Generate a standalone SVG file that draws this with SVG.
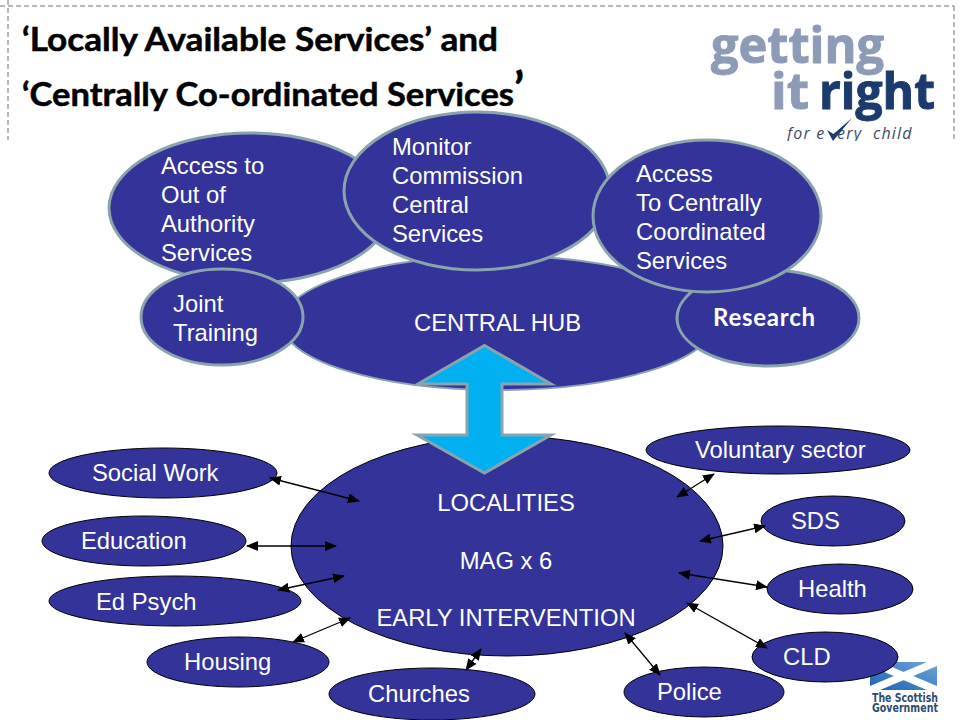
<svg xmlns="http://www.w3.org/2000/svg" width="960" height="720" viewBox="0 0 960 720">
<style>
.t{font-family:"Liberation Sans",Arial,sans-serif;font-size:23.8px;fill:#fff}
.n{fill:#333399;stroke:#000;stroke-width:1}
.u{fill:#333399;stroke:#8aa3ad;stroke-width:3}
.c{fill:none;stroke:#000;stroke-width:1.3;marker-start:url(#a);marker-end:url(#a)}
.h{font-family:Lato,"Open Sans",sans-serif;font-weight:700;font-size:32px;fill:#000;stroke:#000;stroke-width:.5}
.g{font-family:"Open Sans","Noto Sans",sans-serif;font-weight:700;font-size:50px;stroke-width:1}
.f{font-family:"Open Sans","Noto Sans",sans-serif;font-style:italic;font-size:16px;letter-spacing:1.2px;fill:#3d4a66}
.s{font-family:"DejaVu Sans",sans-serif;font-weight:700;font-size:11.5px;fill:#2f4b6e}
.d{fill:none;stroke:#6b7280;stroke-width:1;stroke-dasharray:5 3}
</style>
<defs>
<marker id="a" viewBox="0 0 12 10" refX="11" refY="5" markerWidth="12" markerHeight="10" markerUnits="userSpaceOnUse" orient="auto-start-reverse"><path d="M0 0L12 5L0 10Z" fill="#000"/></marker>
<linearGradient id="sg" x1="0" y1="1" x2="1" y2="0"><stop offset="0" stop-color="#1a62b5"/><stop offset="1" stop-color="#6fa6da"/></linearGradient>
<clipPath id="fc"><rect x="780" y="115" width="140" height="26"/></clipPath>
</defs>
<rect width="960" height="720" fill="#fff"/>
<path class="d" d="M0 6H954M8 0V140M954 6V140"/>
<text class="h" x="22" y="51" textLength="476" lengthAdjust="spacingAndGlyphs">‘Locally Available Services’ and</text>
<text class="h" x="22" y="106" textLength="492" lengthAdjust="spacingAndGlyphs">‘Centrally Co-ordinated Services</text>
<text class="h" x="514" y="105" style="font-size:46px">’</text>
<g id="logo">
<text class="g" x="711" y="63" fill="#8e9bb6" stroke="#8e9bb6" textLength="173" lengthAdjust="spacingAndGlyphs">getting</text>
<text class="g" x="771" y="109" fill="#8e9bb6" stroke="#8e9bb6" textLength="38" lengthAdjust="spacingAndGlyphs">it</text>
<text class="g" x="819" y="109" fill="#1c3a6e" stroke="#1c3a6e" textLength="116" lengthAdjust="spacingAndGlyphs">right</text>
<g clip-path="url(#fc)">
<text class="f" x="787" y="139">for e</text>
<text class="f" x="837" y="139">ery</text>
<text class="f" x="873" y="139">child</text>
</g>
<path d="M827 130L833 141L852 118L833.500 134Z" fill="#1c3a6e"/>
</g>
<g id="hub"><ellipse class="n" cx="498" cy="323" rx="216" ry="67" style="stroke:#8aa3ad;stroke-width:2"/><text class="t" x="414" y="331">CENTRAL HUB</text></g>
<g id="research"><ellipse class="u" cx="768" cy="318" rx="91" ry="48"/><text x="713" y="326" textLength="102" style="font-family:Lato,sans-serif;font-weight:700;font-size:24px;fill:#fff">Research</text></g>
<g id="out-of-authority"><ellipse class="u" cx="250" cy="208" rx="141" ry="75"/><text class="t"><tspan x="161" y="174">Access to</tspan><tspan x="161" y="203">Out of</tspan><tspan x="161" y="232">Authority</tspan><tspan x="161" y="261">Services</tspan></text></g>
<g id="monitor"><ellipse class="u" cx="477" cy="191" rx="133" ry="79"/><text class="t"><tspan x="392" y="155">Monitor</tspan><tspan x="392" y="184">Commission</tspan><tspan x="392" y="213">Central</tspan><tspan x="392" y="242">Services</tspan></text></g>
<g id="central-access"><ellipse class="u" cx="707" cy="216" rx="114" ry="76"/><text class="t"><tspan x="636" y="182">Access</tspan><tspan x="636" y="211">To Centrally</tspan><tspan x="636" y="240">Coordinated</tspan><tspan x="636" y="269">Services</tspan></text></g>
<g id="joint-training"><ellipse class="u" cx="222" cy="317" rx="81" ry="48"/><text class="t"><tspan x="173" y="312">Joint</tspan><tspan x="173" y="341">Training</tspan></text></g>
<g id="localities"><ellipse class="n" cx="507" cy="546" rx="216" ry="110"/><text class="t" text-anchor="middle"><tspan x="506" y="511">LOCALITIES</tspan><tspan x="506" y="569">MAG x 6</tspan><tspan x="506" y="626">EARLY INTERVENTION</tspan></text></g>
<g id="double-arrow"><path d="M484.500 345.500L551 384H502V435H551L484.500 473L417 435H467V384H418Z" fill="#00b0f0" stroke="#8aa3ad" stroke-width="3"/></g>
<g id="scottish-government">
<rect x="870" y="662" width="67" height="28" fill="url(#sg)"/>
<path d="M870 662L880 662L937 686V690H927L870 666ZM937 662V666L880 690H870V686L927 662Z" fill="#fff"/>
<text class="s" x="872" y="702" textLength="66" lengthAdjust="spacingAndGlyphs">The Scottish</text>
<text class="s" x="872" y="712" textLength="66" lengthAdjust="spacingAndGlyphs">Government</text>
</g>
<g id="social-work"><ellipse class="n" cx="163" cy="473" rx="114" ry="25"/><text class="t" x="92" y="481">Social Work</text></g>
<g id="education"><ellipse class="n" cx="144" cy="541" rx="102" ry="25"/><text class="t" x="81" y="549">Education</text></g>
<g id="ed-psych"><ellipse class="n" cx="175" cy="601" rx="126" ry="25"/><text class="t" x="96" y="610">Ed Psych</text></g>
<g id="housing"><ellipse class="n" cx="238" cy="662" rx="91" ry="25"/><text class="t" x="184" y="670">Housing</text></g>
<g id="churches"><ellipse class="n" cx="432" cy="694" rx="103" ry="26"/><text class="t" x="368" y="702">Churches</text></g>
<g id="police"><ellipse class="n" cx="704" cy="692" rx="80" ry="25"/><text class="t" x="657" y="700">Police</text></g>
<g id="cld"><ellipse class="n" cx="825" cy="657" rx="73" ry="25"/><text class="t" x="783" y="665">CLD</text></g>
<g id="health"><ellipse class="n" cx="840" cy="589" rx="73" ry="25"/><text class="t" x="798" y="597">Health</text></g>
<g id="sds"><ellipse class="n" cx="833" cy="521" rx="72" ry="25"/><text class="t" x="791" y="529">SDS</text></g>
<g id="voluntary"><ellipse class="n" cx="778" cy="450" rx="132" ry="24"/><text class="t" x="695" y="458">Voluntary sector</text></g>
<g id="connectors">
<path class="c" d="M270 478L359 501"/>
<path class="c" d="M247 546L336 546"/>
<path class="c" d="M278 590L344 576"/>
<path class="c" d="M293 642L350 618"/>
<path class="c" d="M466 670L481 649"/>
<path class="c" d="M660 675L625 633"/>
<path class="c" d="M767 648L687 603"/>
<path class="c" d="M767 587L679 573"/>
<path class="c" d="M765 526L700 541"/>
<path class="c" d="M714 474L677 497"/>
</g>
</svg>
